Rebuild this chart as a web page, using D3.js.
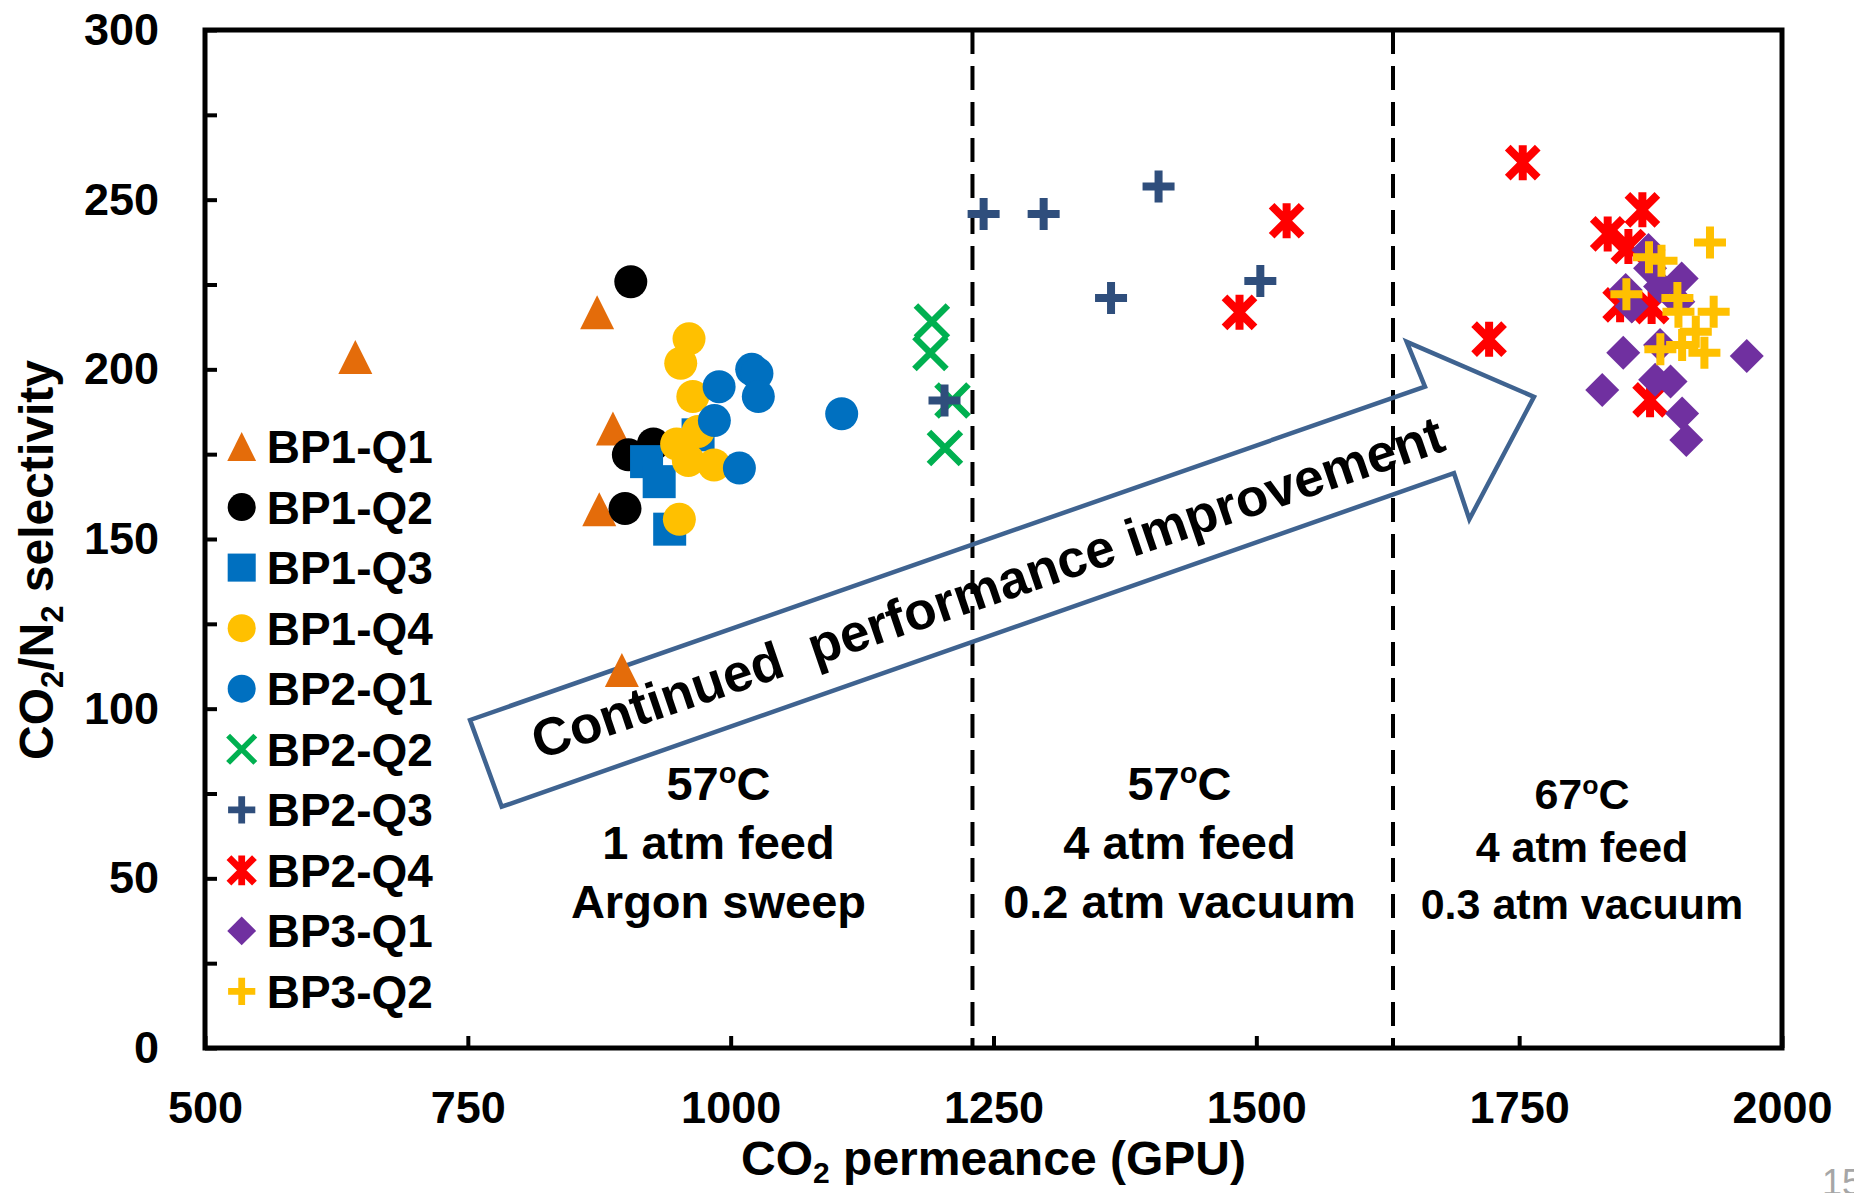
<!DOCTYPE html>
<html><head><meta charset="utf-8">
<script src="https://cdn.jsdelivr.net/npm/d3@7"></script>
<style>html,body{margin:0;padding:0;background:#fff;} svg{display:block;}</style>
</head><body><svg id="chart" width="1854" height="1193"></svg>
<script>
// ---------- data ----------
const seriesNames = ["BP1-Q1","BP1-Q2","BP1-Q3","BP1-Q4","BP2-Q1","BP2-Q2","BP2-Q3","BP2-Q4","BP3-Q1","BP3-Q2"];
const seriesColors = ["#E46C0A","#000000","#0070C0","#FFC000","#0070C0","#00B050","#2F4E7C","#FF0000","#7030A0","#FFC000"];
const markerTypes = ["triangle","circle","square","circle","circle","x","plus","star","diamond","plus"];

const bp1q1X = [643, 873, 888, 875, 896.5];
const bp1q1Y = [203.6, 216.8, 182.6, 158.8, 111.4];
const bp1q2X = [905, 926.5, 902.7, 899.5];
const bp1q2Y = [225.8, 178, 174.8, 159];
const bp1q3X = [969, 920, 932, 942];
const bp1q3Y = [180.7, 172.8, 166.9, 152.9];
const bp1q4X = [960.4, 952.5, 964, 969, 948.6, 959.7, 984.2, 951.2];
const bp1q4Y = [209, 201.8, 192, 181.7, 178, 173.1, 171.8, 155.8];
const bp2q1X = [989, 1020, 1025, 1026.3, 1105.6, 984.5, 1008.3];
const bp2q1Y = [194.9, 200, 198.8, 192, 186.9, 184.9, 170.9];
const bp2q2X = [1191.4, 1190, 1211, 1203.8];
const bp2q2Y = [214.1, 204.8, 190.8, 176.8];
const bp2q3X = [1240.6, 1297.7, 1407, 1361.8, 1503.8, 1203.4];
const bp2q3Y = [245.8, 245.8, 253.9, 221, 226, 190.8];
const bp2q4X = [1528.8, 1484, 1753.4, 1721.4, 1867.2, 1834.2, 1853.9, 1846, 1876, 1874.5];
const bp2q4Y = [243.8, 216.8, 260.9, 208.9, 247, 239.9, 236.2, 219, 218.5, 191];
const bp3q1X = [1873, 1874.5, 1904.6, 1851.3, 1857, 1884, 1901.4, 1849, 1884, 1966.5, 1829, 1879.3, 1894, 1905, 1909];
const bp3q1Y = [235.2, 229.8, 226.8, 223.4, 218.5, 224.4, 219.9, 204.9, 207.2, 203.9, 193.9, 196.9, 196.4, 187, 179.2];
const bp3q2X = [1931.5, 1873.5, 1885.4, 1852, 1900.5, 1901.5, 1935, 1918, 1905, 1884.3, 1926.2];
const bp3q2Y = [237.4, 233, 232, 222.1, 221, 217, 217, 211.1, 207.2, 205.9, 204.9];

const seriesX = [bp1q1X,bp1q2X,bp1q3X,bp1q4X,bp2q1X,bp2q2X,bp2q3X,bp2q4X,bp3q1X,bp3q2X];
const seriesY = [bp1q1Y,bp1q2Y,bp1q3Y,bp1q4Y,bp2q1Y,bp2q2Y,bp2q3Y,bp2q4Y,bp3q1Y,bp3q2Y];

const xTicks = [500, 750, 1000, 1250, 1500, 1750, 2000];
const yTicks = [0, 25, 50, 75, 100, 125, 150, 175, 200, 225, 250, 275, 300];
const yLabelTicks = [0, 50, 100, 150, 200, 250, 300];
const regionLines = [1230, 1630];

// arrow outline (data units)
const arrowX = [752.1, 1660.4, 1643, 1764.1, 1702.6, 1688, 782.2];
const arrowY = [96.66, 194.9, 208.1, 191.9, 155.8, 169.4, 71.1];
const arrowText = "Continued  performance improvement";
const arrowTextPos = [1250, 130.6];

const annoCols = [
  {x: 988.4, temp: "57", lines: ["1 atm feed", "Argon sweep"], y: [73.1, 55.7, 38.3], size: 47},
  {x: 1426.9, temp: "57", lines: ["4 atm feed", "0.2 atm vacuum"], y: [73.1, 55.7, 38.3], size: 47},
  {x: 1809.8, temp: "67", lines: ["4 atm feed", "0.3 atm vacuum"], y: [70.4, 54.8, 38.0], size: 43}
];

// ---------- layout ----------
const FONT = '"Liberation Sans", Arial, Helvetica, sans-serif';
const svg = d3.select("#chart").style("font-family", FONT);
const L = 205, R = 1782, T = 30, B = 1048;
const x = d3.scaleLinear().domain([500, 2000]).range([L, R]);
const y = d3.scaleLinear().domain([0, 300]).range([B, T]);

svg.append("rect").attr("width",1854).attr("height",1193).attr("fill","#fff");

// region dashed lines
svg.append("g").selectAll("line").data(regionLines).join("line")
  .attr("x1", d => x(d)).attr("x2", d => x(d)).attr("y1", T).attr("y2", B)
  .attr("stroke","#000").attr("stroke-width",4).attr("stroke-dasharray","24,12");

// arrow
const arrowPts = arrowX.map((v,i) => [x(v), y(arrowY[i])]);
svg.append("path").attr("d", d3.line()(arrowPts) + "Z")
  .attr("fill","none").attr("stroke","#3F6390").attr("stroke-width",4.5).attr("stroke-linejoin","miter");
const ang = Math.atan2(arrowPts[1][1]-arrowPts[0][1], arrowPts[1][0]-arrowPts[0][0]) * 180/Math.PI;
svg.append("text")
  .attr("transform", `translate(${x(arrowTextPos[0])},${y(arrowTextPos[1])}) rotate(${ang+0.4})`)
  .attr("text-anchor","middle").attr("font-size",53).attr("font-weight","bold")
  .style("white-space","pre").text(arrowText);

// annotation texts
annoCols.forEach(c => {
  const g = svg.append("g").attr("font-weight","bold").attr("font-size", c.size).attr("text-anchor","middle");
  const t = g.append("text").attr("x", x(c.x)).attr("y", y(c.y[0]));
  const up = c.size * 0.35;
  t.append("tspan").text(c.temp);
  t.append("tspan").attr("font-size", c.size*0.62).attr("dy", -up).text("o");
  t.append("tspan").attr("dy", up).text("C");
  c.lines.forEach((s,i) => g.append("text").attr("x", x(c.x)).attr("y", y(c.y[i+1])).text(s));
});

// ---------- markers ----------
function drawMarker(sel, type, color, k) {
  if (type === "triangle") {
    const w = 34*k, h = 34*k;
    sel.append("path").attr("d", `M0,${-h/2}L${w/2},${h/2}L${-w/2},${h/2}Z`).attr("fill", color);
  } else if (type === "circle") {
    sel.append("circle").attr("r", 16.5*k).attr("fill", color);
  } else if (type === "square") {
    const s = 33*k;
    sel.append("rect").attr("x",-s/2).attr("y",-s/2).attr("width",s).attr("height",s).attr("fill",color);
  } else if (type === "diamond") {
    const s = 17*k;
    sel.append("path").attr("d", `M0,${-s}L${s},0L0,${s}L${-s},0Z`).attr("fill", color);
  } else if (type === "x") {
    const s = 16*k;
    sel.append("path").attr("d", `M${-s},${-s}L${s},${s}M${s},${-s}L${-s},${s}`)
      .attr("stroke", color).attr("stroke-width", 6.5*k).attr("fill","none");
  } else if (type === "plus") {
    const s = 16*k;
    sel.append("path").attr("d", `M${-s},0L${s},0M0,${-s}L0,${s}`)
      .attr("stroke", color).attr("stroke-width", 8*k).attr("fill","none");
  } else if (type === "star") {
    const s = 15*k, v = 17.5*k;
    sel.append("path").attr("d", `M${-s},${-s}L${s},${s}M${s},${-s}L${-s},${s}M0,${-v}L0,${v}`)
      .attr("stroke", color).attr("stroke-width", 8*k).attr("fill","none");
  }
}

const dataG = svg.append("g");
seriesNames.forEach((name, si) => {
  const pts = seriesX[si].map((v,i) => ({x: v, y: seriesY[si][i]}));
  dataG.append("g").selectAll("g").data(pts).join("g")
    .attr("transform", d => `translate(${x(d.x)},${y(d.y)})`)
    .each(function() { drawMarker(d3.select(this), markerTypes[si], seriesColors[si], 1); });
});

// ---------- axes ----------
const yAxis = d3.axisLeft(y).tickValues(yTicks).tickSize(-12).tickPadding(46)
  .tickFormat(d => yLabelTicks.includes(d) ? String(d) : "");
const ya = svg.append("g").attr("transform", `translate(${L},0)`).call(yAxis);
const xAxis = d3.axisBottom(x).tickValues(xTicks).tickSize(-12).tickPadding(43).tickFormat(d => String(d));
const xa = svg.append("g").attr("transform", `translate(0,${B})`).call(xAxis);
[ya, xa].forEach(a => {
  a.select(".domain").remove();
  a.selectAll(".tick line").attr("stroke","#000").attr("stroke-width",4);
  a.selectAll(".tick text").attr("fill","#000").attr("font-size",45).attr("font-weight","bold").attr("font-family",FONT);
});

// plot frame
svg.append("rect").attr("x",L).attr("y",T).attr("width",R-L).attr("height",B-T)
  .attr("fill","none").attr("stroke","#000").attr("stroke-width",5);

// axis titles
const yt = svg.append("text").attr("transform","translate(53,560) rotate(-90)")
  .attr("text-anchor","middle").attr("font-size",48).attr("font-weight","bold");
yt.append("tspan").text("CO");
yt.append("tspan").attr("font-size",31).attr("dy",10).text("2");
yt.append("tspan").attr("dy",-10).text("/N");
yt.append("tspan").attr("font-size",31).attr("dy",10).text("2");
yt.append("tspan").attr("dy",-10).text(" selectivity").style("white-space","pre");

const xt = svg.append("text").attr("x",(L+R)/2).attr("y",1175)
  .attr("text-anchor","middle").attr("font-size",48).attr("font-weight","bold");
xt.append("tspan").text("CO");
xt.append("tspan").attr("font-size",30).attr("dy",8).text("2");
xt.append("tspan").attr("dy",-8).style("white-space","pre").text(" permeance (GPU)");

// ---------- legend ----------
const legX = 241.7, legTextX = 266.7, legY0 = 446.5, legDY = 60.55;
const leg = svg.append("g");
seriesNames.forEach((name, si) => {
  const cy = legY0 + si*legDY;
  const m = leg.append("g").attr("transform", `translate(${legX},${cy})`);
  drawMarker(m, markerTypes[si], seriesColors[si], 0.85);
  leg.append("text").attr("x", legTextX).attr("y", cy + 16.5)
    .attr("font-size",46).attr("font-weight","bold").text(name);
});

// page number fragment (cut by the right edge, as in the source slide)
svg.append("text").attr("x",1822).attr("y",1195).attr("font-size",36).attr("fill","#a6a6a6").text("15");
</script>
</body></html>
